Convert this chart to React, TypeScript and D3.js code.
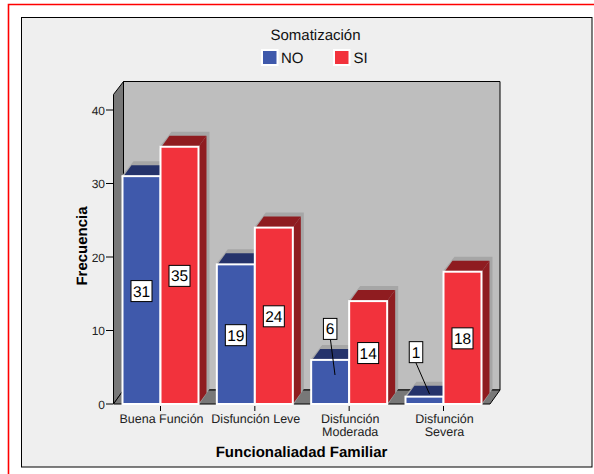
import React from "react";
import * as d3 from "d3";

const categories = [["Buena Función"], ["Disfunción Leve"], ["Disfunción", "Moderada"], ["Disfunción", "Severa"]];
const noValues = [31, 19, 6, 1];
const siValues = [35, 24, 14, 18];
const yTicks = [0, 10, 20, 30, 40];
const labelFont = "Liberation Sans, Arial, sans-serif";

const BLUE = "#3f59ab", BLUE_D = "#25336b", RED = "#f2323c", RED_D = "#8f1c20";

export default function App() {
  const y = d3.scaleLinear().domain([0, 40]).range([404, 110]);
  const x = d3.scalePoint<number>().domain([0, 1, 2, 3]).range([160.5, 443.5]);
  const bw = 38, dx = 8, dy = 11;
  const bar = (x0: number, v: number, fill: string, dark: string, key: string) => {
    const t = y(v), b = y(0);
    return (
      <g key={key}>
        <polygon points={`${x0 - 1},${t} ${x0 + dx + 3},${t - dy - 4} ${x0 + bw + dx + 3},${t - dy - 4} ${x0 + bw + dx + 3},${b - dy - 4} ${x0 + bw + 1},${b}`} fill="#a6a6a6" />
        <polygon points={`${x0 + 1},${t} ${x0 + dx + 1},${t - dy} ${x0 + bw + dx},${t - dy} ${x0 + bw},${t}`} fill={dark} />
        <polygon points={`${x0 + bw},${t} ${x0 + bw + dx},${t - dy} ${x0 + bw + dx},${b - dy} ${x0 + bw},${b}`} fill={dark} />
        <rect x={x0} y={t} width={bw} height={b - t} fill={fill} stroke="#fff" strokeWidth={2} />
      </g>
    );
  };
  const box = (cx: number, cy: number, text: string) => {
    const w = text.length > 1 ? 21 : 13.5;
    return (
      <g key={text + cx}>
        <rect x={cx - w / 2} y={cy - 10.5} width={w} height={21} fill="#fff" stroke="#000" strokeWidth={1} />
        <text x={cx} y={cy + 5.5} textAnchor="middle" fontSize={15.5} fill="#000">{text}</text>
      </g>
    );
  };
  return (
    <svg width={594} height={474} style={{ position: "absolute", left: 0, top: 0, textRendering: "geometricPrecision" }} fontFamily={labelFont}>
      <rect width={594} height={474} fill="#fff" />
      <path d="M8.5,474 V4.5 H594" fill="none" stroke="#ff0000" strokeWidth={1.6} />
      <rect x={21.5} y={17.5} width={570.5} height={449.5} fill="#efefef" stroke="#000" strokeWidth={1} />
      <text x={315.5} y={40} textAnchor="middle" fontSize={15} fill="#111">Somatización</text>
      <rect x={262} y={50} width={15.5} height={15} fill={BLUE} stroke="#fff" strokeWidth={2} />
      <text x={281} y={63} fontSize={15} fill="#111">NO</text>
      <rect x={334} y={50} width={15.5} height={15} fill={RED} stroke="#fff" strokeWidth={2} />
      <text x={353.5} y={63} fontSize={15} fill="#111">SI</text>

      <polygon points="123.5,81.5 500,81.5 500,390 123.5,390" fill="#bebebe" stroke="#000" strokeWidth={1} />
      <polygon points="113.5,94.5 123.5,81.5 123.5,390 113.5,404" fill="#787878" stroke="#000" strokeWidth={1} />
      <polygon points="113.5,404 123.5,390 500,390 490,404" fill="#787878" stroke="#000" strokeWidth={1} />

      {yTicks.map((t) => (
        <g key={t}>
          <line x1={106} x2={113} y1={y(t)} y2={y(t)} stroke="#000" />
          <text x={105} y={y(t) + 4.5} textAnchor="end" fontSize={12} fill="#222">{t}</text>
        </g>
      ))}
      <text transform="translate(87,246) rotate(-90)" textAnchor="middle" fontSize={15} fontWeight="bold" fill="#000">Frecuencia</text>

      {categories.map((lines, i) => {
        const cx = x(i)!;
        return (
          <g key={i}>
            {bar(cx - bw, noValues[i], BLUE, BLUE_D, `n${i}`)}
            {bar(cx, siValues[i], RED, RED_D, `s${i}`)}
            <line x1={cx} x2={cx} y1={406} y2={411} stroke="#000" />
            {lines.map((l, j) => (
              <text key={j} x={cx + 1} y={423 + j * 12.5} textAnchor="middle" fontSize={12.5} fill="#222">{l}</text>
            ))}
          </g>
        );
      })}

      <line x1={330.5} y1={340} x2={335} y2={375} stroke="#000" />
      <line x1={416} y1={363} x2={429.5} y2={394} stroke="#000" />
      {noValues.map((v, i) => {
        const cx = x(i)!;
        const lx = v === 1 ? cx - 27.5 : cx - 19;
        const cy = v === 6 ? y(v) - 31 : v === 1 ? y(v) - 44.5 : y(v / 2) + 1;
        return box(lx, cy, String(v));
      })}
      {siValues.map((v, i) => box(x(i)! + 19, y(v / 2) + 0.5, String(v)))}

      <text x={301.5} y={457} textAnchor="middle" fontSize={15} fontWeight="bold" fill="#000">Funcionaliadad Familiar</text>
    </svg>
  );
}
